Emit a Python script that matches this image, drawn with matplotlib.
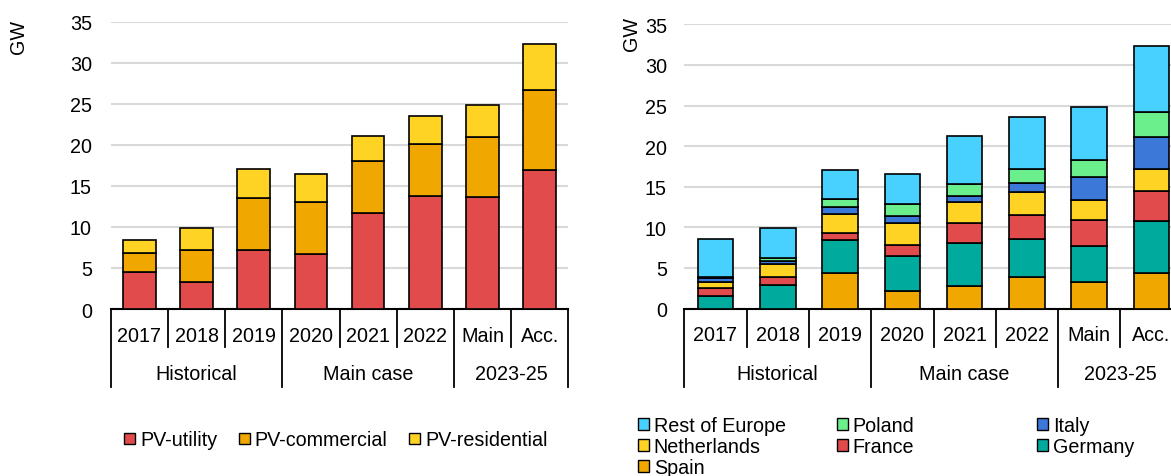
import matplotlib
matplotlib.use("Agg")
import matplotlib.pyplot as plt
from matplotlib.patches import Patch
from matplotlib.transforms import blended_transform_factory
import numpy as np

plt.rcParams['font.family'] = ['Liberation Sans', 'DejaVu Sans']
plt.rcParams['font.size'] = 14.2

W, H, DPI = 1171, 477, 100

CATEGORIES = ["2017", "2018", "2019", "2020", "2021", "2022", "Main", "Acc."]
GROUPS = [("Historical", 0, 2), ("Main case", 3, 5), ("2023-25", 6, 7)]

# left chart: by segment (GW)
PV_UTILITY = [4.48, 3.26, 7.24, 6.76, 11.64, 13.72, 13.6, 16.93]
PV_COMMERCIAL = [2.32, 3.94, 6.26, 6.22, 6.35, 6.35, 7.36, 9.69]
PV_RESIDENTIAL = [1.62, 2.65, 3.55, 3.5, 3.13, 3.5, 3.87, 5.7]

# right chart: by country (GW)
SPAIN = [0.0, 0.0, 4.35, 2.14, 2.71, 3.9, 3.25, 4.35]
GERMANY = [1.48, 2.88, 4.03, 4.35, 5.34, 4.69, 4.47, 6.45]
FRANCE = [0.99, 1.02, 0.9, 1.31, 2.43, 2.95, 3.21, 3.7]
NETHERLANDS = [0.82, 1.52, 2.39, 2.72, 2.59, 2.76, 2.42, 2.71]
ITALY = [0.41, 0.46, 0.82, 0.82, 0.82, 1.1, 2.8, 3.91]
POLAND = [0.16, 0.36, 0.99, 1.48, 1.39, 1.73, 2.17, 3.12]
REST_OF_EUROPE = [4.64, 3.66, 3.61, 3.7, 5.92, 6.45, 6.54, 8.05]

RED = "#E24B4B"
ORANGE = "#F0A800"
YELLOW = "#FFD324"
LIGHTBLUE = "#48D1FF"
GREEN = "#6BEE8C"
BLUE = "#3C78D8"
TEAL = "#00AB9E"


def stack(ax, series):
    x = np.arange(len(CATEGORIES))
    bottom = np.zeros(len(CATEGORIES))
    for vals, color in series:
        ax.bar(x, vals, 0.57, bottom=bottom, color=color, edgecolor="black",
               linewidth=1.2, zorder=3)
        bottom += np.array(vals)


def style_axis(ax, pad):
    ax.set_xlim(-0.5, len(CATEGORIES) - 0.5)
    ax.set_ylim(0, 35)
    ax.set_yticks(range(0, 36, 5))
    ax.yaxis.grid(True, color="#d9d9d9", linewidth=1.5)
    ax.set_axisbelow(True)
    for s in ["left", "right", "top"]:
        ax.spines[s].set_visible(False)
    ax.spines["bottom"].set_linewidth(1.5)
    ax.tick_params(axis="y", length=0, pad=pad)
    ax.set_xticks([])


def category_axis(ax):
    h = ax.get_position().height * H
    trans = blended_transform_factory(ax.transData, ax.transAxes)
    bounds = [g[1] - 0.5 for g in GROUPS] + [GROUPS[-1][2] + 0.5]
    for i in range(len(CATEGORIES) + 1):
        x = i - 0.5
        depth = 78 if x in bounds else 38
        ax.plot([x, x], [0, -depth / h], transform=trans, color="black",
                linewidth=1.3, clip_on=False)
    for i, lab in enumerate(CATEGORIES):
        ax.text(i, -26 / h, lab, transform=trans, ha="center", va="center")
    for name, a, b in GROUPS:
        ax.text((a + b) / 2, -65 / h, name, transform=trans, ha="center", va="center")


fig = plt.figure(figsize=(W / DPI, H / DPI), dpi=DPI)

ax1 = fig.add_axes([110.7 / W, 1 - 310 / H, 457.6 / W, (310 - 22.7) / H])
stack(ax1, [(PV_UTILITY, RED), (PV_COMMERCIAL, ORANGE), (PV_RESIDENTIAL, YELLOW)])
style_axis(ax1, 13.5)
category_axis(ax1)
fig.text(18.5 / W, 1 - 37 / H, "GW", rotation=90, ha="center", va="center")

ax2 = fig.add_axes([684.3 / W, 1 - 309.5 / H, 498.4 / W, (309.5 - 25.3) / H])
stack(ax2, [(SPAIN, ORANGE), (GERMANY, TEAL), (FRANCE, RED), (NETHERLANDS, YELLOW),
            (ITALY, BLUE), (POLAND, GREEN), (REST_OF_EUROPE, LIGHTBLUE)])
style_axis(ax2, 12.5)
category_axis(ax2)
fig.text(631 / W, 1 - 34 / H, "GW", rotation=90, ha="center", va="center")

leg_kw = dict(frameon=False, handlelength=0.55, handleheight=0.55,
              handletextpad=0.25, borderpad=0, borderaxespad=0)

h_left = [Patch(facecolor=c, edgecolor="black", linewidth=1) for c in [RED, ORANGE, YELLOW]]
fig.legend(h_left, ["PV-utility", "PV-commercial", "PV-residential"], loc="center",
           bbox_to_anchor=(336 / W, 1 - 441 / H), ncol=3, columnspacing=1.1, **leg_kw)

cols = [
    (638, [("Rest of Europe", LIGHTBLUE), ("Netherlands", YELLOW), ("Spain", ORANGE)]),
    (837, [("Poland", GREEN), ("France", RED)]),
    (1037, [("Italy", BLUE), ("Germany", TEAL)]),
]
for x0, items in cols:
    hs = [Patch(facecolor=c, edgecolor="black", linewidth=1) for _, c in items]
    fig.legend(hs, [n for n, _ in items], loc="upper left",
               bbox_to_anchor=(x0 / W, 1 - 417 / H), labelspacing=0.1, **leg_kw)

fig.savefig("out.png", dpi=DPI)
